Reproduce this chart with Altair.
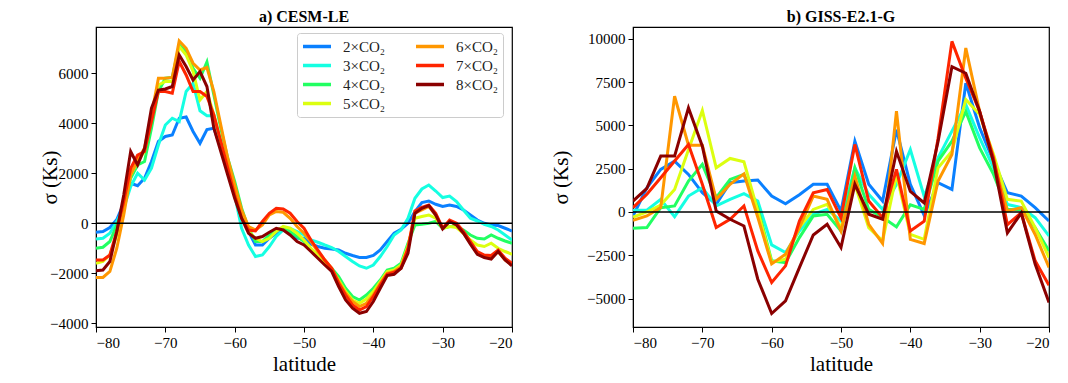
import altair as alt
import pandas as pd

series = ["2×CO₂", "3×CO₂", "4×CO₂", "5×CO₂", "6×CO₂", "7×CO₂", "8×CO₂"]
colors = ["#0a80ff", "#15ffe2", "#22ff62", "#dcff10", "#ff9700", "#ff2500", "#8a0000"]

# ---------- panel a: CESM-LE (1 degree) ----------
lat_a = list(range(-80, -19))
a_2x = [-360, -330, -170, 150, 800, 1600, 1500, 1800, 2470, 3270,
        3470, 3530, 4200, 4250, 3670, 3200, 3750, 3800, 3000, 2200,
        1270, 330, -330, -870, -870, -600, -400, -270, -400, -600,
        -600, -840, -930, -1000, -1030, -1070, -1200, -1290, -1370, -1370,
        -1290, -1070, -730, -400, -240, 0, 470, 830, 890, 760,
        670, 730, 670, 530, 330, 130, 0, -70, -90, -200,
        -310]
a_3x = [-630, -600, -400, 70, 600, 1470, 2000, 1730, 2200, 3130,
        3930, 4200, 4070, 5270, 5600, 4500, 4300, 4300, 3200, 2200,
        1130, -200, -870, -1330, -1270, -930, -530, -270, -200, -330,
        -470, -670, -760, -870, -970, -1130, -1330, -1530, -1710, -1800,
        -1670, -1330, -930, -470, -270, 200, 1000, 1370, 1530, 1290,
        1030, 1090, 870, 530, 200, 90, -40, -130, -270, -470,
        -670]
a_4x = [-1000, -960, -730, -70, 600, 1800, 2330, 2470, 3800, 5270,
        5800, 5830, 7130, 6870, 6200, 5800, 6450, 5130, 3800, 2600,
        1670, 600, -200, -730, -730, -470, -270, -200, -330, -530,
        -730, -1070, -1270, -1530, -1800, -2130, -2600, -2930, -3070, -2870,
        -2600, -2270, -1870, -1800, -1600, -800, -70, -40, 0, 70,
        -200, -130, -130, -270, -470, -600, -630, -470, -600, -710,
        -800]
a_5x = [-1600, -1530, -1270, -470, 600, 1930, 2470, 2870, 4200, 5530,
        5670, 5670, 7070, 6730, 6070, 4930, 5270, 4330, 3270, 2200,
        1270, 330, -330, -600, -730, -600, -330, -130, -200, -400,
        -670, -1000, -1290, -1600, -1870, -2270, -2730, -3070, -3200, -3030,
        -2730, -2330, -1930, -1870, -1670, -900, 200, 270, 330, 200,
        -200, -130, -170, -400, -670, -870, -930, -800, -1000, -1130,
        -1240]
a_6x = [-2170, -2170, -1930, -1000, 330, 1930, 2530, 3000, 4330, 5800,
        5800, 5830, 7290, 7000, 6400, 6130, 6230, 5270, 3930, 2600,
        1530, 530, -130, -270, -70, 330, 470, 440, 200, -130,
        -400, -730, -1130, -1470, -1800, -2330, -2800, -3130, -3330, -3200,
        -2870, -2400, -2000, -1930, -1730, -1000, 400, 530, 670, 330,
        -200, 70, -70, -400, -800, -1200, -1330, -1370, -1130, -1470,
        -1670]
a_7x = [-1470, -1470, -1270, -330, 870, 2200, 2730, 2870, 4070, 5270,
        5270, 5200, 6470, 5930, 5270, 5270, 5070, 4330, 3270, 2200,
        1130, 200, -270, -310, 70, 400, 600, 570, 400, 70,
        -200, -670, -1070, -1470, -1800, -2400, -2870, -3270, -3470, -3330,
        -2930, -2470, -2040, -1960, -1800, -1000, 490, 630, 730, 400,
        -200, 130, 0, -330, -730, -1130, -1270, -1290, -1070, -1400,
        -1600]
a_8x = [-1900, -1870, -1530, -330, 1130, 2870, 2330, 3000, 4600, 5330,
        5370, 5470, 6730, 6270, 5730, 6070, 5470, 3800, 2870, 1930,
        1000, 200, -400, -600, -530, -360, -200, -270, -470, -730,
        -870, -1130, -1400, -1670, -1930, -2530, -3070, -3400, -3600, -3530,
        -3130, -2600, -2090, -2040, -1800, -1200, 400, 600, 710, 330,
        -230, 70, -70, -400, -840, -1240, -1370, -1430, -1130, -1470,
        -1700]

# ---------- panel b: GISS-E2.1-G (2 degree) ----------
lat_b = list(range(-80, -19, 2))
b_2x = [-230, 1400, 2460, 2940, 2170, 1110, 440, 1690, 1790, 1840,
        920, 470, 1000, 1600, 1600, 60, 4090, 1600, 630, 4750,
        1600, -200, 1690, 1300, 7440, 4860, 2920, 1110, 920, 250,
        -520]
b_3x = [100, 100, 730, -270, 920, 1400, 350, 730, 1060, 630,
        -1900, -2340, -1100, -130, 150, -520, 2550, 1020, 150, 1600,
        3610, 900, 3130, 4670, 6200, 4280, 2550, 440, 250, -330,
        -1380]
b_4x = [-940, -900, 250, 350, 1790, 2750, 830, 1880, 2170, 250,
        -2820, -2920, -1480, -230, -130, -1100, 2550, 150, -300, -860,
        420, 150, 2940, 4090, 5800, 3700, 2170, 150, 150, -900,
        -2250]
b_5x = [-300, 0, 400, 1300, 3600, 5860, 2550, 3090, 2900, 60,
        -2900, -2730, -900, 150, 440, -900, 1600, -900, -1670, 2170,
        -1290, -1580, 2550, 3510, 6490, 5630, 3320, 730, 630, -900,
        -2630]
b_6x = [-480, -230, 250, 6680, 3860, 3860, 730, 1600, 2200, -300,
        -3000, -2440, -900, 920, 730, -1100, 2070, -710, -1820, 5820,
        -1580, -1820, 1790, 3320, 9470, 5800, 2900, 60, 250, -1300,
        -3200]
b_7x = [250, 1020, 1980, 2940, 3900, 1600, -900, -420, 350, -2250,
        -4070, -3110, -520, 1110, 1300, -330, 3900, 630, -330, 2460,
        -1100, -530, 4260, 9850, 7720, 5800, 3130, -730, -40, -2820,
        -4230]
b_8x = [630, 1360, 3230, 3230, 6010, 3800, 60, -420, -810, -3880,
        -5860, -5130, -3210, -1330, -710, -2050, 1600, -130, -420, 3500,
        1190, 520, 4070, 8390, 8010, 5800, 2900, -1210, -60, -3010,
        -5220]


def long_df(lats, cols):
    rows = []
    for name, vals in zip(series, cols):
        for la, v in zip(lats, vals):
            rows.append({"lat": la, "sigma": v, "series": name})
    return pd.DataFrame(rows)


df_a = long_df(lat_a, [a_2x, a_3x, a_4x, a_5x, a_6x, a_7x, a_8x])
df_b = long_df(lat_b, [b_2x, b_3x, b_4x, b_5x, b_6x, b_7x, b_8x])

FONT = "Liberation Serif"


def panel(df, title, ydom, yticks, legend, ytitle_x):
    xenc = alt.X(
        "lat:Q",
        scale=alt.Scale(domain=[-80, -20], nice=False, zero=False),
        axis=alt.Axis(values=[-80, -70, -60, -50, -40, -30, -20], format="d",
                      title="latitude", titlePadding=3),
    )
    yenc = alt.Y(
        "sigma:Q",
        scale=alt.Scale(domain=ydom, nice=False, zero=False),
        axis=alt.Axis(values=yticks, format="d", title="σ (Ks)", titleX=ytitle_x),
    )
    lines = alt.Chart(df).mark_line(strokeWidth=3, clip=True).encode(
        x=xenc,
        y=yenc,
        color=alt.Color("series:N", scale=alt.Scale(domain=series, range=colors),
                        sort=series, legend=legend),
        order=alt.Order("lat:Q"),
    )
    zero = alt.Chart(pd.DataFrame({"z": [0]})).mark_rule(
        color="black", strokeWidth=1.5).encode(y=alt.Y("z:Q"))
    return alt.layer(lines, zero).properties(
        width=416, height=300,
        title=alt.TitleParams(title, font=FONT, fontSize=16, fontWeight="bold",
                              anchor="middle", offset=2, color="black"),
    )


leg = alt.Legend(
    title=None, orient="none", legendX=201, legendY=6, columns=2,
    values=series, symbolType="stroke", symbolStrokeWidth=3.5,
    symbolSize=784, clipHeight=19, labelFont=FONT, labelFontSize=15,
    labelColor="#222222", strokeColor="#cccccc", fillColor="white",
    cornerRadius=3, padding=4, rowPadding=0, columnPadding=28,
    labelOffset=10, labelLimit=200,
)

pa = panel(df_a, "a) CESM-LE", [-4150, 7850],
           [-4000, -2000, 0, 2000, 4000, 6000], leg, -36)
pb = panel(df_b, "b) GISS-E2.1-G", [-6640, 10680],
           [-5000, -2500, 0, 2500, 5000, 7500, 10000], None, -62)

chart = alt.hconcat(pa, pb, spacing=35).resolve_scale(
    color="independent").resolve_legend(color="independent").properties(
    padding={"left": 30, "top": 0, "right": 5, "bottom": 5}
).configure_view(stroke="black", strokeWidth=1.2).configure_axis(
    labelFont=FONT, labelFontSize=15, labelColor="black",
    titleFont=FONT, titleFontSize=21, titleFontWeight="normal", titleColor="black",
    domainColor="black", tickColor="black", tickSize=5, labelPadding=3,
    grid=False,
)

chart.save("out.html", embed_options={"renderer": "svg", "actions": False})
